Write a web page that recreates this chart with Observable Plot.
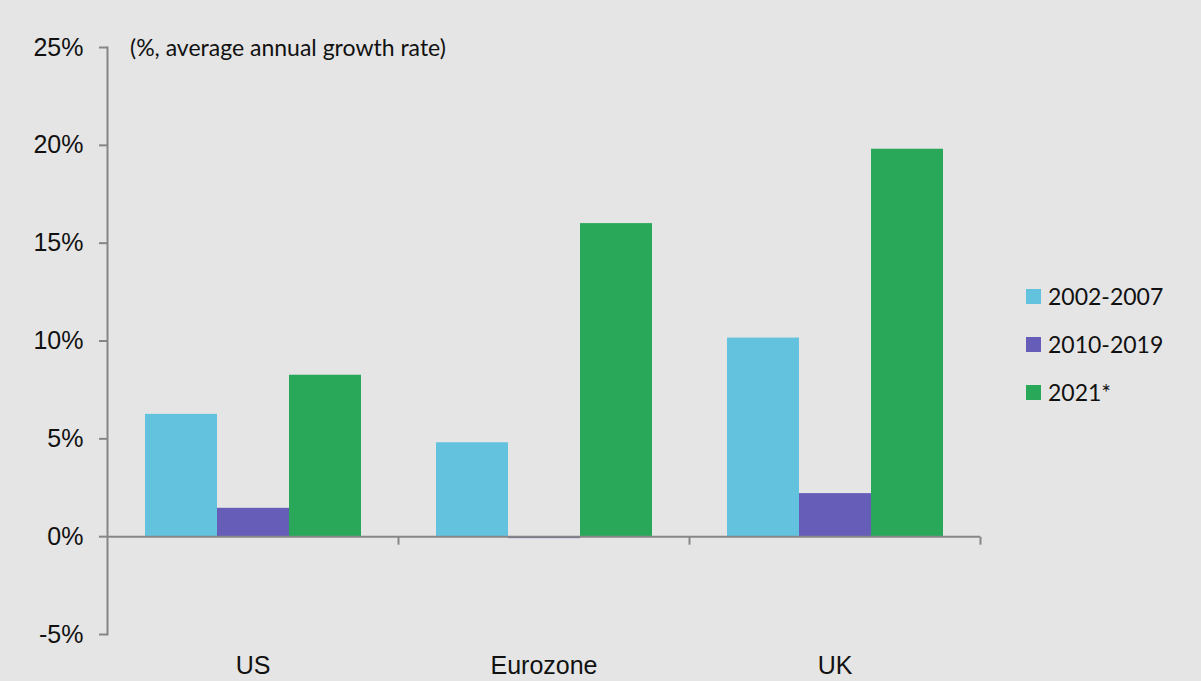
<!DOCTYPE html>
<html>
<head>
<meta charset="utf-8">
<script src="https://cdn.jsdelivr.net/npm/d3@7"></script>
<script src="https://cdn.jsdelivr.net/npm/@observablehq/plot@0.6"></script>
<style>
  html, body { margin: 0; padding: 0; background: #e5e5e5; }
  #wrap { position: relative; width: 1201px; height: 681px; overflow: hidden; background: #e5e5e5; }
  #wrap svg { position: absolute; left: 0; top: 0; }
  #subtitle { position: absolute; left: 130px; top: 32px; font-family: Lato, sans-serif; font-size: 23px; color: #111; white-space: nowrap; line-height: 30px; }
  #legend { position: absolute; left: 1026px; top: 272px; font-family: Lato, sans-serif; font-size: 23px; color: #111; }
  .item { display: flex; align-items: center; height: 48px; }
  .sw { width: 15px; height: 15px; margin-right: 7px; }
</style>
</head>
<body>
<div id="wrap">
  <div id="subtitle">(%, average annual growth rate)</div>
  <div id="legend"></div>
</div>
<script>
const regions = ["US", "Eurozone", "UK"];
const periods = ["2002-2007", "2010-2019", "2021*"];
const colors = ["#63c3df", "#665db8", "#29a85a"];
const values2002_2007 = [6.25, 4.8, 10.15];
const values2010_2019 = [1.45, -0.1, 2.2];
const values2021 = [8.25, 16.0, 19.8];
const yTicks = [-5, 0, 5, 10, 15, 20, 25];

const seriesValues = [values2002_2007, values2010_2019, values2021];
const data = [];
regions.forEach((r, i) => periods.forEach((p, j) => data.push({region: r, period: p, value: seriesValues[j][i]})));

const axisGray = "#868686";
const tickSymbol = {draw(ctx) { ctx.moveTo(0, 0); ctx.lineTo(0, 8); }};

const chart = Plot.plot({
  width: 1201,
  height: 681,
  marginLeft: 107,
  marginRight: 221,
  marginTop: 47,
  marginBottom: 47,
  style: {background: "transparent", fontFamily: "'Liberation Sans', Arial, sans-serif", fontSize: "25px", color: "#111"},
  fx: {domain: regions, padding: 0},
  x: {domain: periods, paddingInner: 0, paddingOuter: 0.5, axis: null},
  y: {domain: [-5, 25]},
  color: {domain: periods, range: colors},
  marks: [
    Plot.barY(data, {fx: "region", x: "period", y: "value", fill: "period"}),
    Plot.ruleY([0], {stroke: axisGray, strokeWidth: 2}),
    Plot.frame({anchor: "left", facetAnchor: "left", stroke: axisGray, strokeWidth: 2}),
    Plot.dot([0], {y: d => d, frameAnchor: "right", symbol: tickSymbol, stroke: axisGray, strokeWidth: 2, fill: "none"}),
    Plot.axisY({ticks: yTicks, tickFormat: d => `${d}%`, tickSize: 8, tickPadding: 16, fontSize: 25, stroke: axisGray, strokeWidth: 2, strokeOpacity: 1, fill: "#111", label: null}),
    Plot.axisFx({anchor: "bottom", tickSize: 0, tickPadding: 22, fontSize: 25, fill: "#111", label: null})
  ]
});
document.getElementById("wrap").appendChild(chart);

const legend = document.getElementById("legend");
periods.forEach((p, i) => {
  const item = document.createElement("div");
  item.className = "item";
  const sw = document.createElement("div");
  sw.className = "sw";
  sw.style.background = colors[i];
  const t = document.createElement("span");
  t.textContent = p;
  item.appendChild(sw);
  item.appendChild(t);
  legend.appendChild(item);
});
</script>
</body>
</html>
